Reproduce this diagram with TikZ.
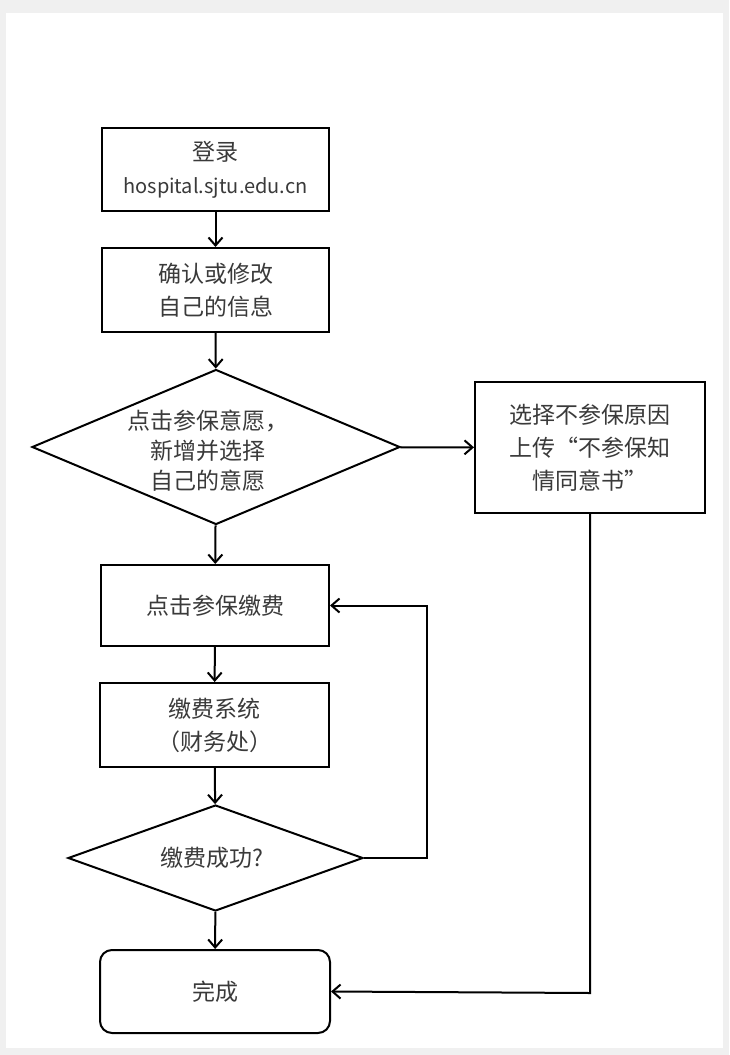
\documentclass[tikz,border=0pt]{standalone}
\usepackage{fontspec}
\setmainfont{Noto Sans CJK SC}
\usetikzlibrary{shapes.geometric,arrows.meta}
\definecolor{txtc}{HTML}{3A3A3A}
\tikzset{
  box/.style={draw=black,line width=2pt,fill=white,inner sep=0pt,align=center,text=txtc,font=\fontsize{23}{33}\selectfont},
  dia/.style={draw=black,line width=2pt,diamond,inner sep=0pt},
  dtxt/.style={align=center,text=txtc,font=\fontsize{23}{30}\selectfont,inner sep=0pt},
  conn/.style={line width=2pt,-{Straight Barb[length=8pt,width=14pt,line width=2pt]}}
}
\begin{document}
\begin{tikzpicture}[x=1pt,y=-1pt]
\useasboundingbox (0,0) rectangle (729,1055);
\fill[gray!12] (0,0) rectangle (729,1055);
\fill[white] (6,13) rectangle (723,1048);
\node[box,minimum width=227pt,minimum height=83pt] (b1) at (215.5,169.5) {登录\\{\fontsize{20}{33}\selectfont hospital.sjtu.edu.cn}};
\node[box,minimum width=227pt,minimum height=84pt] (b2) at (215.5,290) {确认或修改\\自己的信息};
\node[dia,minimum width=368pt,minimum height=155pt] (d1) at (216,447) {};
\node[dtxt] (d1t) at (208,451) {点击参保意愿，\\新增并选择\\自己的意愿};
\node[box,minimum width=230pt,minimum height=131pt] (r) at (590,447.5) {选择不参保原因\\上传“不参保知\\情同意书”};
\node[box,minimum width=228pt,minimum height=81pt] (b3) at (215,605.5) {点击参保缴费};
\node[box,minimum width=229pt,minimum height=84pt] (b4) at (214.5,725) {缴费系统\\（财务处）};
\node[dia,minimum width=295pt,minimum height=106pt] (d2) at (215.5,858) {};
\node[dtxt] (d2t) at (212,858) {缴费成功?};
\node[box,rounded corners=12pt,minimum width=230pt,minimum height=83pt] (b5) at (215,991.5) {完成};
\coordinate (lp) at (427,858);
\coordinate (rp) at (590,993);
\draw[conn] (b1) -- (b2);
\draw[conn] (b2) -- (d1);
\draw[conn] (d1) -- (r);
\draw[conn] (d1) -- (b3);
\draw[conn] (b3) -- (b4);
\draw[conn] (b4) -- (d2);
\draw[conn] (d2) -- (b5);
\draw[conn] (d2.east) -- (lp) |- (b3.east);
\draw[conn] (r.south) -- (rp) -- (b5.east);
\end{tikzpicture}
\end{document}
